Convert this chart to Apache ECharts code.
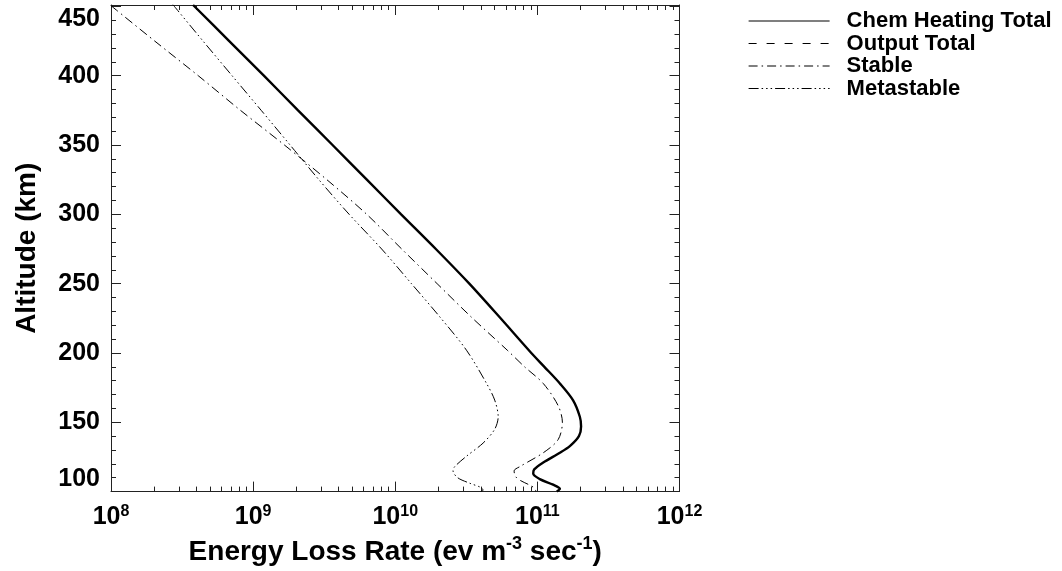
<!DOCTYPE html>
<html><head><meta charset="utf-8">
<script src="https://cdn.jsdelivr.net/npm/echarts@6/dist/echarts.min.js"></script>
<style>html,body{margin:0;padding:0;background:#fff}#c{width:1062px;height:571px}</style>
</head><body><div id="c"></div>
<script>
const FONT = "'Liberation Sans', Arial, Helvetica, sans-serif";
const seriesNames = ['Chem Heating Total', 'Output Total', 'Stable', 'Metastable'];

// Altitude (km) and energy loss rate (ev m^-3 sec^-1)
const chemAlt = [451, 425, 400, 375, 350, 325, 300, 275, 250, 225, 200, 190, 178, 166, 154, 147, 140, 133, 128, 121, 116, 113, 109, 105, 102, 100];
const chemVal = [3.78e8, 6.79e8, 1.19e9, 2.07e9, 3.62e9, 6.31e9, 1.10e10, 1.93e10, 3.32e10, 5.51e10, 9.06e10, 1.12e11, 1.44e11, 1.78e11, 1.99e11, 2.03e11, 1.96e11, 1.70e11, 1.44e11, 1.10e11, 9.50e10, 9.35e10, 1.04e11, 1.29e11, 1.44e11, 1.37e11];

const outAlt = chemAlt.slice();
const outVal = chemVal.slice();

const stableAlt = [450.5, 425, 400, 375, 350, 325, 300, 275, 250, 226, 202, 190, 178, 162, 150, 137.5, 128, 118, 115, 111, 108, 105, 102.5, 100];
const stableVal = [1.0e8, 2.03e8, 4.11e8, 8.15e8, 1.66e9, 3.30e9, 6.30e9, 1.11e10, 1.97e10, 3.42e10, 6.14e10, 8.13e10, 1.10e11, 1.40e11, 1.50e11, 1.40e11, 1.10e11, 7.52e10, 6.86e10, 7.0e10, 7.6e10, 8.7e10, 9.55e10, 9.77e10];

const metaAlt = [451.4, 425, 400, 375, 350, 325, 300, 275, 250, 226, 202, 178, 166, 154, 145, 135, 125.5, 118, 115, 110, 106, 103, 101, 100];
const metaVal = [2.72e8, 4.44e8, 7.11e8, 1.14e9, 1.82e9, 2.90e9, 4.74e9, 8.02e9, 1.30e10, 2.06e10, 3.17e10, 4.39e10, 5.01e10, 5.30e10, 5.01e10, 4.15e10, 3.17e10, 2.62e10, 2.55e10, 2.75e10, 3.35e10, 4.0e10, 4.15e10, 3.98e10];

const xMajor = [1e8, 1e9, 1e10, 1e11, 1e12];
const xMinor = [2e8,3e8,4e8,5e8,6e8,7e8,8e8,9e8, 2e9,3e9,4e9,5e9,6e9,7e9,8e9,9e9, 2e10,3e10,4e10,5e10,6e10,7e10,8e10,9e10, 2e11,3e11,4e11,5e11,6e11,7e11,8e11,9e11];
const yMajor = [100, 150, 200, 250, 300, 350, 400, 450];
const yMinor = [110,120,130,140,160,170,180,190,210,220,230,240,260,270,280,290,310,320,330,340,360,370,380,390,410,420,430,440];

function pairs(xs, ys) { return xs.map((x, i) => [x, ys[i]]); }

const X_MIN = 1e8, X_MAX = 1e12, Y_MIN = 100, Y_MAX = 451;
const AX = '#222';

function xAxisDef(pos, ticks, len, labels, line) {
  return {
    type: 'log', logBase: 10, min: X_MIN, max: X_MAX, position: pos,
    axisLine: { show: line, lineStyle: { color: AX, width: 1 } },
    axisTick: { show: true, inside: true, length: len, customValues: ticks, lineStyle: { color: AX, width: 1 } },
    axisLabel: labels ? {
      show: true, margin: 12, customValues: xMajor,
      formatter: v => '{b|10}{s|' + Math.round(Math.log10(v)) + '}',
      rich: {
        b: { fontFamily: FONT, fontWeight: 'bold', fontSize: 25, color: '#000' },
        s: { fontFamily: FONT, fontWeight: 'bold', fontSize: 16, color: '#000', padding: [0, 0, 12, 0] }
      }
    } : { show: false },
    splitLine: { show: false }, minorTick: { show: false }, minorSplitLine: { show: false }
  };
}
function yAxisDef(pos, ticks, len, labels, line) {
  return {
    type: 'value', min: Y_MIN, max: Y_MAX, position: pos,
    axisLine: { show: line, lineStyle: { color: AX, width: 1 } },
    axisTick: { show: true, inside: true, length: len, customValues: ticks, lineStyle: { color: AX, width: 1 } },
    axisLabel: labels ? {
      show: true, margin: 11, customValues: yMajor,
      fontFamily: FONT, fontWeight: 'bold', fontSize: 25, color: '#000',
      verticalAlignMinLabel: 'bottom', verticalAlignMaxLabel: 'top'
    } : { show: false },
    splitLine: { show: false }
  };
}

const xs = [xAxisDef('bottom', xMajor, 10, true, true), xAxisDef('bottom', xMinor, 5, false, false),
            xAxisDef('top', xMajor, 10, false, true), xAxisDef('top', xMinor, 5, false, false)];
xs[0].name = 'Energy Loss Rate (ev m{s|-3} sec{s|-1})';
xs[0].nameLocation = 'middle';
xs[0].nameGap = 38;
xs[0].nameTextStyle = {
  fontFamily: FONT, fontWeight: 'bold', fontSize: 28, color: '#000',
  rich: { s: { fontFamily: FONT, fontWeight: 'bold', fontSize: 18, color: '#000', padding: [0, 0, 16, 0] } }
};
const ys = [yAxisDef('left', yMajor, 10, true, true), yAxisDef('left', yMinor, 5, false, false),
            yAxisDef('right', yMajor, 10, false, true), yAxisDef('right', yMinor, 5, false, false)];
ys[0].name = 'Altitude (km)';
ys[0].nameLocation = 'middle';
ys[0].nameGap = 70;
ys[0].nameTextStyle = { fontFamily: FONT, fontWeight: 'bold', fontSize: 28, color: '#000' };

const styles = [
  { width: 2.4, type: 'solid' },
  { width: 1, type: [8, 10] },
  { width: 1, type: [9, 4, 1.5, 4] },
  { width: 1, type: [10, 3, 1.5, 3, 1.5, 3, 1.5, 3] }
];
const datas = [pairs(chemVal, chemAlt), pairs(outVal, outAlt), pairs(stableVal, stableAlt), pairs(metaVal, metaAlt)];
const zs = [4, 3, 2, 2];

const chart = echarts.init(document.getElementById('c'), null, { renderer: 'canvas' });
chart.setOption({
  animation: false,
  backgroundColor: '#fff',
  grid: { left: 111, right: 382.5, top: 5, bottom: 79, containLabel: false },
  xAxis: xs,
  yAxis: ys,
  legend: {
    orient: 'vertical', left: 748, top: 10, padding: 0,
    itemWidth: 81, itemHeight: 10, itemGap: 0.5,
    data: seriesNames,
    lineStyle: { width: 1.2 },
    itemStyle: { opacity: 0 },
    textStyle: { fontFamily: FONT, fontWeight: 'bold', fontSize: 22, color: '#000', lineHeight: 22, padding: [0, 0, 0, 12] }
  },
  series: seriesNames.map((n, i) => ({
    name: n, type: 'line', xAxisIndex: 0, yAxisIndex: 0,
    data: datas[i], smooth: 0.3, symbol: 'none', showSymbol: false, z: zs[i],
    lineStyle: Object.assign({ color: '#000' }, styles[i]),
    itemStyle: { color: '#000' }
  }))
});
</script></body></html>
